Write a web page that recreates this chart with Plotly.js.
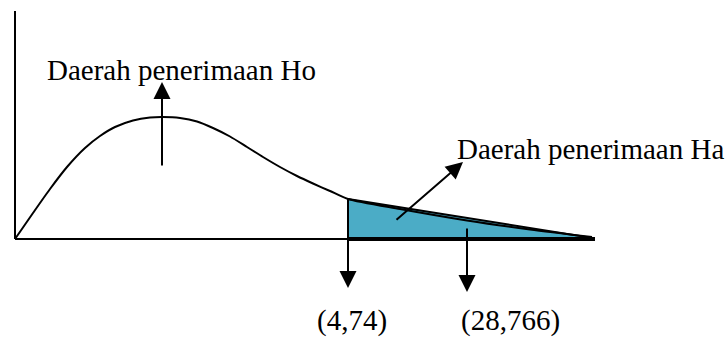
<!DOCTYPE html>
<html>
<head>
<meta charset="utf-8">
<script src="https://cdn.plot.ly/plotly-3.0.1.min.js"></script>
<style>
  html, body { margin: 0; padding: 0; background: #fff; }
  #chart { width: 727px; height: 337px; }
</style>
</head>
<body>
<div id="chart"></div>
<script>
// Density curve of the test statistic (diagram units, origin at the axis corner)
const curveX = [0, 18, 35, 52, 70, 85, 100, 118, 135, 148, 165, 182, 198, 215, 232, 248, 265, 282, 298, 315, 333, 385, 452, 515, 577];
const curveY = [0, 26, 50, 72, 91, 103, 112, 118.5, 121.5, 122, 121, 117.5, 111, 102.5, 92, 82, 72, 63, 55.5, 48, 40, 30, 18.5, 9.5, 2];

// Rejection region (Ha), shaded from the critical value to the tail
const regionX = [333, 578, 578, 333, 333];
const regionY = [40, 1, 0, 0, 40];

// Axis extents
const axisXEnd = 580;
const axisYEnd = 228;

// Marker positions for the critical value and the computed statistic
const criticalX = 333;
const statisticX = 452;
const peakX = 148;
const markLabels = ['(4,74)', '(28,766)'];

const regionLabels = ['Daerah penerimaan Ho', 'Daerah penerimaan Ha'];

const font = { family: 'Liberation Serif, Times New Roman, serif', size: 29, color: '#000' };

const traces = [
  {
    x: regionX, y: regionY, type: 'scatter', mode: 'lines',
    fill: 'toself', fillcolor: '#4BACC6',
    line: { color: '#000', width: 2 }, hoverinfo: 'skip'
  },
  {
    x: curveX, y: curveY, type: 'scatter', mode: 'lines',
    line: { color: '#000', width: 2, shape: 'spline', smoothing: 0.7 }, hoverinfo: 'skip'
  }
];

const shapes = [
  // vertical axis
  { type: 'line', xref: 'x', yref: 'y', x0: 0, x1: 0, y0: 0, y1: axisYEnd, line: { color: '#000', width: 2 } },
  // horizontal axis
  { type: 'line', xref: 'x', yref: 'y', x0: 0, x1: criticalX, y0: 0, y1: 0, line: { color: '#000', width: 2 } },
  { type: 'line', xref: 'x', yref: 'y', x0: criticalX, x1: axisXEnd, y0: 0, y1: 0, line: { color: '#000', width: 4 } }
];

function arrow(x, y, ax, ay) {
  return {
    x: x, y: y, ax: ax, ay: ay, xref: 'x', yref: 'y', axref: 'x', ayref: 'y',
    text: '', showarrow: true, arrowhead: 2, arrowsize: 1.7, arrowwidth: 2, arrowcolor: '#000'
  };
}

function label(text, x, y) {
  return {
    x: x, y: y, xref: 'x', yref: 'y', text: text, showarrow: false,
    xanchor: 'left', yanchor: 'middle', font: font
  };
}

const annotations = [
  arrow(criticalX, -49, criticalX, 40),
  arrow(statisticX, -53, statisticX, 12),
  arrow(peakX - 1, 157, peakX - 1, 72),
  arrow(448, 77, 380, 18),
  label(regionLabels[0], 30, 169),
  label(regionLabels[1], 440, 90),
  label(markLabels[0], 300, -81),
  label(markLabels[1], 444, -81)
];

const layout = {
  width: 727, height: 337,
  margin: { l: 0, r: 0, t: 0, b: 0, pad: 0 },
  paper_bgcolor: '#fff', plot_bgcolor: '#fff',
  showlegend: false,
  xaxis: { range: [-15, 712], visible: false, fixedrange: true },
  yaxis: { range: [-98, 239], visible: false, fixedrange: true },
  shapes: shapes,
  annotations: annotations
};

Plotly.newPlot('chart', traces, layout, { staticPlot: true, displayModeBar: false });
</script>
</body>
</html>
